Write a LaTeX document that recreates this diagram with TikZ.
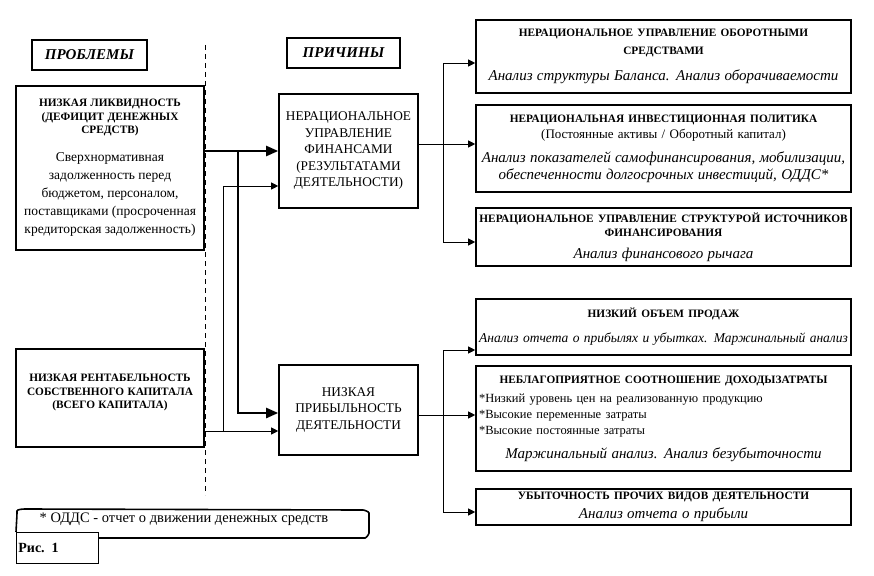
\documentclass[tikz,border=0pt]{standalone}
\usepackage{fontspec}
\setmainfont{Liberation Serif}
\usetikzlibrary{arrows.meta}
\newcommand{\boxhead}[1]{{\bfseries\fontsize{11.3}{14}\selectfont #1\par}}
\newcommand{\boxnote}[1]{{\itshape\fontsize{15}{17}\selectfont #1\par}}
\tikzset{
  topic/.style={draw, line width=1.4pt, font=\bfseries\itshape\fontsize{15}{18}\selectfont,
    minimum height=30pt, inner sep=4pt},
  probbox/.style={draw, line width=1.6pt, minimum width=188pt, text width=184pt, align=center, inner sep=2pt},
  causebox/.style={draw, line width=1.6pt, minimum width=139pt, text width=135pt, align=center,
    inner sep=2pt, font=\fontsize{13.3}{16.5}\selectfont},
  anbox/.style={draw, line width=1.6pt, minimum width=375pt, text width=369pt, align=center,
    inner sep=2pt, font=\fontsize{13}{16}\selectfont},
  bigarrow/.style={line width=2.2pt, -{Triangle[length=12pt,width=10pt]}},
  smallarrow/.style={line width=0.8pt, -{Triangle[length=7pt,width=7pt]}}
}
\begin{document}
\begin{tikzpicture}[x=1pt,y=-1pt]
\useasboundingbox (0,0) rectangle (874,575);

\draw[line width=0.8pt, dash pattern=on 5pt off 4pt] (205,45) -- (205,495);

\node (probl) [topic, minimum width=115pt] at (89.5,55) {ПРОБЛЕМЫ};
\node (prich) [topic, minimum width=113pt] at (343.5,53) {ПРИЧИНЫ};

\node (liq) [probbox, minimum height=164pt] at (110,168) {%
  {\bfseries\fontsize{11.3}{13.5}\selectfont НИЗКАЯ ЛИКВИДНОСТЬ\\(ДЕФИЦИТ ДЕНЕЖНЫХ\\СРЕДСТВ)\par}\vspace{10pt}
  {\fontsize{13.5}{18}\selectfont Сверхнормативная\\задолженность перед\\бюджетом, персоналом,\\поставщиками (просроченная\\кредиторская задолженность)\par}};
\node (rent) [probbox, minimum height=98pt] at (110,398) {%
  {\bfseries\fontsize{11.3}{13.5}\selectfont НИЗКАЯ РЕНТАБЕЛЬНОСТЬ\\СОБСТВЕННОГО КАПИТАЛА\\(ВСЕГО КАПИТАЛА)\rule[-13pt]{0pt}{13pt}\par}};

\node (fin) [causebox, minimum height=114pt] at (348.5,151)
  {НЕРАЦИОНАЛЬНОЕ\\УПРАВЛЕНИЕ\\ФИНАНСАМИ\\(РЕЗУЛЬТАТАМИ\\ДЕЯТЕЛЬНОСТИ)};
\node (prof) [causebox, minimum height=90pt] at (348.5,410)
  {НИЗКАЯ\\ПРИБЫЛЬНОСТЬ\\ДЕЯТЕЛЬНОСТИ};

\node (r1) [anbox, minimum height=73pt] at (663.5,56.5) {%
  {\bfseries\fontsize{11.3}{18}\selectfont НЕРАЦИОНАЛЬНОЕ УПРАВЛЕНИЕ ОБОРОТНЫМИ\\СРЕДСТВАМИ\par}\vspace{9pt}
  \boxnote{Анализ структуры Баланса. Анализ оборачиваемости}};
\node (r2) [anbox, minimum height=87pt] at (663.5,148.5) {%
  \boxhead{НЕРАЦИОНАЛЬНАЯ ИНВЕСТИЦИОННАЯ ПОЛИТИКА}
  (Постоянные активы / Оборотный капитал)\par\vspace{7pt}
  \boxnote{Анализ показателей самофинансирования, мобилизации,\\обеспеченности долгосрочных инвестиций, ОДДС*}};
\node (r3) [anbox, minimum height=58pt] at (663.5,237) {%
  \boxhead{НЕРАЦИОНАЛЬНОЕ УПРАВЛЕНИЕ СТРУКТУРОЙ ИСТОЧНИКОВ\\ФИНАНСИРОВАНИЯ}\vspace{5pt}
  \boxnote{Анализ финансового рычага}};
\node (r4) [anbox, minimum height=56pt] at (663.5,327) {%
  \boxhead{НИЗКИЙ ОБЪЕМ ПРОДАЖ}\vspace{8pt}
  {\itshape\fontsize{13.5}{17}\selectfont\mbox{Анализ отчета о прибылях и убытках. Маржинальный анализ}\par}};
\node (r5) [anbox, minimum height=105pt] at (663.5,418.5) {%
  \boxhead{НЕБЛАГОПРИЯТНОЕ СООТНОШЕНИЕ ДОХОДЫЗАТРАТЫ}\vspace{3pt}
  {\raggedright\fontsize{12.5}{16}\selectfont *Низкий уровень цен на реализованную продукцию\\{}*Высокие переменные затраты\\{}*Высокие постоянные затраты\par}\vspace{7pt}
  \boxnote{Маржинальный анализ. Анализ безубыточности}};
\node (r6) [anbox, minimum height=36pt, inner sep=1pt] at (663.5,507) {%
  \boxhead{УБЫТОЧНОСТЬ ПРОЧИХ ВИДОВ ДЕЯТЕЛЬНОСТИ}\vspace{2pt}
  \boxnote{Анализ отчета о прибыли}};

\coordinate (j1) at (238,152);
\coordinate (j2) at (223,431);
\coordinate (b1) at (443,144);
\coordinate (b2) at (443,415);

\draw[bigarrow] (fin.west -| liq.east) -- (fin.west);
\draw[bigarrow] (j1) |- ([yshift=-3pt]prof.west);
\draw[smallarrow] ([yshift=-21pt]prof.west -| rent.east) -- ([yshift=-21pt]prof.west);
\draw[smallarrow] (j2) |- ([yshift=-35pt]fin.west);

\draw[smallarrow] ([yshift=7pt]fin.east) -- (b1 -| r2.west);
\draw[smallarrow] (b1) |- ([yshift=-6.5pt]r1.west);
\draw[smallarrow] (b1) |- ([yshift=-5pt]r3.west);
\draw[smallarrow] ([yshift=-5pt]prof.east) -- (b2 -| r5.west);
\draw[smallarrow] (b2) |- ([yshift=-23pt]r4.west);
\draw[smallarrow] (b2) |- ([yshift=-5pt]r6.west);

\draw[line width=1.6pt, rounded corners=3pt] (98,538) -- (362,538) to[out=0,in=-90] (369,530)
  -- (369,516) to[out=90,in=0] (360,510) -- (28,509) to[out=180,in=90] (17,514) -- (16,532);
\node (oddc) [font=\fontsize{14.5}{17}\selectfont] at (184,519) {* ОДДС - отчет о движении денежных средств};
\node (fig) [draw, fill=white, line width=0.8pt, anchor=north west, minimum width=82pt, minimum height=31pt,
  text width=78pt, align=left, inner sep=2pt, font=\bfseries\fontsize{14}{17}\selectfont] at (16,532) {Рис. 1};
\end{tikzpicture}
\end{document}
